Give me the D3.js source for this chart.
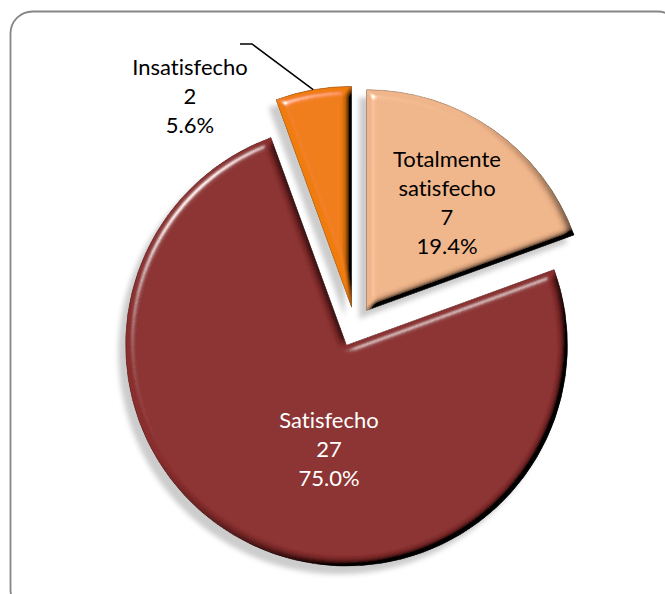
<!DOCTYPE html>
<html>
<head>
<meta charset="utf-8">
<script src="https://cdn.jsdelivr.net/npm/d3@7"></script>
<style>
  body { margin: 0; background: #fff; }
  text { font-family: Lato, "Open Sans", sans-serif; font-variant-ligatures: none; }
</style>
</head>
<body>
<svg id="chart"></svg>
<script>
// data
let categories = ["Totalmente satisfecho", "Satisfecho", "Insatisfecho"];
let counts = [7, 27, 2];
let percents = ["19.4%", "75.0%", "5.6%"];
let colors = ["#f0b58a", "#8b2f2f", "#f07c10"];
let labelColors = ["#000", "#fff", "#000"];

let width = 665;
let height = 594;
let cx = 355;
let cy = 327;
let radius = 221;
let explode = 20;

let svg = d3.select("#chart").attr("width", width).attr("height", height);

// frame (runs off the right and bottom edge)
svg.append("rect")
  .attr("x", 10.5).attr("y", 11.5)
  .attr("width", 669).attr("height", 600)
  .attr("rx", 22).attr("ry", 22)
  .attr("fill", "none")
  .attr("stroke", "#868686")
  .attr("stroke-width", 1.8);

let defs = svg.append("defs");

// soft shadow cast down-left
let shadow = defs.append("filter").attr("id", "shadow")
  .attr("x", "-20%").attr("y", "-20%").attr("width", "140%").attr("height", "140%");
shadow.append("feGaussianBlur").attr("in", "SourceAlpha").attr("stdDeviation", 2.5).attr("result", "b");
shadow.append("feOffset").attr("in", "b").attr("dx", -7).attr("dy", 8).attr("result", "o");
shadow.append("feFlood").attr("flood-color", "#000").attr("flood-opacity", 0.2).attr("result", "f");
shadow.append("feComposite").attr("in", "f").attr("in2", "o").attr("operator", "in").attr("result", "s");
let sm = shadow.append("feMerge");
sm.append("feMergeNode").attr("in", "s");
sm.append("feMergeNode").attr("in", "SourceGraphic");

// bevel look with lighting
let bevel = defs.append("filter").attr("id", "bevel")
  .attr("x", "-5%").attr("y", "-5%").attr("width", "110%").attr("height", "110%");
bevel.append("feGaussianBlur").attr("in", "SourceAlpha").attr("stdDeviation", 4).attr("result", "blur");
bevel.append("feDiffuseLighting").attr("in", "blur").attr("surfaceScale", 7)
  .attr("diffuseConstant", 1.62).attr("lighting-color", "#fff").attr("result", "diff")
  .append("feDistantLight").attr("azimuth", 225).attr("elevation", 38);
bevel.append("feSpecularLighting").attr("in", "blur").attr("surfaceScale", 7)
  .attr("specularConstant", 1).attr("specularExponent", 45).attr("lighting-color", "#fff").attr("result", "spec")
  .append("feDistantLight").attr("azimuth", 225).attr("elevation", 38);
bevel.append("feComposite").attr("in", "SourceGraphic").attr("in2", "diff")
  .attr("operator", "arithmetic").attr("k1", 1).attr("k2", 0).attr("k3", 0).attr("k4", 0).attr("result", "shaded");
bevel.append("feComposite").attr("in", "spec").attr("in2", "SourceAlpha").attr("operator", "in").attr("result", "specIn");
bevel.append("feComposite").attr("in", "shaded").attr("in2", "specIn")
  .attr("operator", "arithmetic").attr("k1", 0).attr("k2", 1).attr("k3", 0.8).attr("k4", 0).attr("result", "lit");
bevel.append("feComposite").attr("in", "lit").attr("in2", "SourceAlpha").attr("operator", "in");

let pie = d3.pie().sort(null).value((d) => d);
let arcs = pie(counts);
let arc = d3.arc().innerRadius(0).outerRadius(radius);

let offset = (d) => {
  let mid = (d.startAngle + d.endAngle) / 2;
  return [Math.sin(mid) * explode, -Math.cos(mid) * explode];
};

let pieG = svg.append("g")
  .attr("transform", "translate(" + cx + "," + cy + ")")
  .attr("filter", "url(#shadow)");

pieG.selectAll("path")
  .data(arcs)
  .enter()
  .append("path")
  .attr("d", arc)
  .attr("transform", (d) => "translate(" + offset(d) + ")")
  .attr("fill", (d, i) => colors[i])
  .attr("stroke", (d, i) => d3.color(colors[i]).darker(1.3))
  .attr("stroke-width", 0.8)
  .attr("filter", "url(#bevel)");

// labels
let labelLines = [
  ["Totalmente", "satisfecho", counts[0], percents[0]],
  ["Satisfecho", counts[1], percents[1]],
  ["Insatisfecho", counts[2], percents[2]]
];
let labelPos = [[447, 167], [329, 428], [190, 75]];
let lineGap = 29;

labelLines.forEach((lines, i) => {
  let t = svg.append("text")
    .attr("text-anchor", "middle")
    .attr("font-size", 22)
    .attr("fill", labelColors[i]);
  lines.forEach((s, j) => {
    t.append("tspan")
      .attr("x", labelPos[i][0])
      .attr("y", labelPos[i][1] + j * lineGap)
      .text(s);
  });
});

// leader line for Insatisfecho
let leader = d3.line();
let insArc = arcs[2];
let edge = d3.arc().innerRadius(radius).outerRadius(radius).centroid(insArc);
let off = offset(insArc);
svg.append("path")
  .attr("d", leader([[240, 44], [252, 44], [cx + edge[0] + off[0], cy + edge[1] + off[1]]]))
  .attr("fill", "none")
  .attr("stroke", "#000")
  .attr("stroke-width", 1.5);
</script>
</body>
</html>
